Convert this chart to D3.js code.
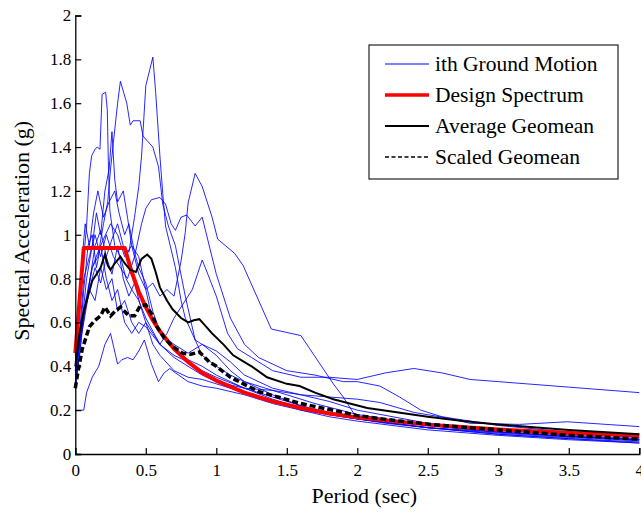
<!DOCTYPE html>
<html>
<head>
<meta charset="utf-8">
<script src="https://cdn.jsdelivr.net/npm/d3@7"></script>
<style>
  body { margin: 0; background: #fff; }
  svg text { font-family: "Liberation Serif", "Times New Roman", serif; fill: #000; }
</style>
</head>
<body>
<div id="chart"></div>
<script>
// Spectral acceleration vs period
let xTicks = [0, 0.5, 1, 1.5, 2, 2.5, 3, 3.5, 4];
let yTicks = [0, 0.2, 0.4, 0.6, 0.8, 1, 1.2, 1.4, 1.6, 1.8, 2];

// ground motions, [period, Sa]
let gm1 = [[0,0.32],[0.03,0.45],[0.06,0.62],[0.1,0.78],[0.14,0.95],[0.18,1.02],[0.22,0.9],[0.26,0.98],[0.3,1.05],[0.34,0.95],[0.38,0.92],[0.42,1.08],[0.45,1.22],[0.47,1.36],[0.5,1.68],[0.55,1.81],[0.57,1.65],[0.6,1.36],[0.62,1.19],[0.64,1.04],[0.71,0.85],[0.75,0.7],[0.78,0.62],[0.85,0.52],[0.9,0.5],[1.0,0.45],[1.1,0.38],[1.2,0.33],[1.4,0.27],[1.6,0.22],[1.8,0.18],[2.0,0.16],[2.5,0.12],[3.0,0.095],[3.5,0.075],[4,0.06]];
let gm2 = [[0,0.42],[0.04,0.6],[0.08,0.72],[0.12,0.85],[0.16,0.9],[0.2,1.05],[0.23,1.15],[0.25,1.3],[0.27,1.42],[0.3,1.6],[0.32,1.7],[0.365,1.6],[0.39,1.5],[0.41,1.52],[0.46,1.52],[0.48,1.45],[0.55,1.4],[0.59,1.31],[0.62,1.14],[0.66,1.04],[0.71,0.95],[0.74,0.85],[0.78,0.72],[0.85,0.52],[0.9,0.45],[1.0,0.4],[1.1,0.36],[1.2,0.33],[1.35,0.3],[1.5,0.27],[1.7,0.23],[2.0,0.18],[2.5,0.13],[3,0.1],[3.5,0.08],[4,0.065]];
let gm3 = [[0,0.4],[0.03,0.65],[0.06,0.9],[0.08,1.04],[0.1,1.28],[0.116,1.36],[0.14,1.39],[0.155,1.4],[0.175,1.39],[0.19,1.64],[0.215,1.65],[0.227,1.57],[0.234,1.34],[0.245,1.11],[0.28,0.95],[0.32,0.9],[0.36,0.8],[0.4,0.75],[0.45,0.7],[0.5,0.62],[0.6,0.5],[0.7,0.45],[0.8,0.42],[0.9,0.38],[1.0,0.35],[1.2,0.3],[1.4,0.25],[1.6,0.21],[1.8,0.18],[2,0.16],[2.5,0.12],[3,0.09],[3.5,0.07],[4,0.055]];
let gm4 = [[0,0.38],[0.04,0.55],[0.08,0.7],[0.12,0.85],[0.16,0.92],[0.2,0.98],[0.25,1.05],[0.3,1.0],[0.35,0.9],[0.4,0.95],[0.45,0.82],[0.5,0.75],[0.55,0.78],[0.6,0.72],[0.65,0.75],[0.7,0.72],[0.75,0.88],[0.78,1.01],[0.8,1.145],[0.85,1.28],[0.9,1.22],[0.97,1.08],[1.01,0.98],[1.13,0.915],[1.19,0.86],[1.39,0.57],[1.6,0.54],[1.83,0.32],[1.9,0.26],[2.0,0.16],[2.2,0.14],[2.5,0.12],[3,0.1],[3.5,0.08],[4,0.065]];
let gm5 = [[0,0.38],[0.03,0.55],[0.06,0.8],[0.1,0.9],[0.14,1.0],[0.18,0.9],[0.22,1.0],[0.27,0.9],[0.32,0.85],[0.37,0.8],[0.42,0.9],[0.47,1.05],[0.5,1.12],[0.54,1.16],[0.6,1.17],[0.64,1.14],[0.68,1.05],[0.71,1.02],[0.75,1.08],[0.79,1.09],[0.85,1.04],[0.9,1.08],[1.0,0.82],[1.1,0.62],[1.2,0.5],[1.3,0.44],[1.5,0.38],[1.7,0.36],[1.9,0.33],[2.0,0.33],[2.16,0.31],[2.3,0.26],[2.45,0.2],[2.6,0.17],[3,0.13],[3.5,0.1],[4,0.075]];
let gm6 = [[0,0.3],[0.03,0.45],[0.06,0.65],[0.1,0.75],[0.14,0.85],[0.18,0.78],[0.22,0.9],[0.26,0.82],[0.3,0.95],[0.34,0.8],[0.38,0.72],[0.42,0.78],[0.46,0.68],[0.5,0.6],[0.55,0.55],[0.6,0.5],[0.65,0.55],[0.7,0.62],[0.76,0.68],[0.83,0.75],[0.9,0.885],[0.94,0.82],[1.0,0.72],[1.08,0.55],[1.15,0.48],[1.25,0.44],[1.4,0.38],[1.6,0.35],[1.8,0.35],[2.0,0.34],[2.2,0.37],[2.4,0.39],[2.6,0.37],[2.8,0.34],[3.0,0.33],[3.2,0.32],[3.6,0.3],[4,0.28]];
let gm7 = [[0,0.2],[0.06,0.2],[0.08,0.28],[0.12,0.35],[0.166,0.4],[0.21,0.5],[0.25,0.55],[0.3,0.41],[0.33,0.43],[0.37,0.44],[0.41,0.43],[0.45,0.47],[0.49,0.52],[0.54,0.41],[0.59,0.33],[0.63,0.37],[0.67,0.39],[0.71,0.37],[0.8,0.33],[0.9,0.31],[1.0,0.3],[1.2,0.27],[1.4,0.23],[1.6,0.2],[1.8,0.18],[2,0.16],[2.5,0.12],[3,0.09],[3.5,0.07],[4,0.05]];
let gm8 = [[0,0.3],[0.03,0.5],[0.06,0.75],[0.09,0.95],[0.12,1.0],[0.15,0.85],[0.18,0.95],[0.22,0.8],[0.26,0.7],[0.3,0.75],[0.35,0.6],[0.4,0.55],[0.45,0.6],[0.5,0.58],[0.6,0.5],[0.7,0.44],[0.8,0.4],[0.9,0.36],[1.0,0.33],[1.2,0.3],[1.4,0.29],[1.6,0.27],[1.8,0.26],[2.0,0.25],[2.16,0.235],[2.4,0.19],[2.63,0.165],[2.8,0.14],[3.15,0.135],[3.49,0.147],[4,0.125]];
let gm9 = [[0,0.45],[0.03,0.7],[0.05,0.9],[0.07,1.05],[0.1,0.95],[0.13,1.1],[0.16,1.2],[0.2,1.08],[0.24,1.15],[0.28,1.2],[0.31,1.1],[0.35,1.0],[0.38,1.05],[0.42,0.92],[0.45,0.85],[0.5,0.78],[0.55,0.65],[0.6,0.56],[0.7,0.48],[0.8,0.43],[0.9,0.4],[1.0,0.36],[1.2,0.3],[1.4,0.26],[1.6,0.22],[1.8,0.19],[2,0.17],[2.5,0.13],[3,0.1],[3.5,0.08],[4,0.065]];
let gm10 = [[0,0.36],[0.04,0.55],[0.08,0.8],[0.12,0.95],[0.15,1.1],[0.18,1.0],[0.21,1.2],[0.24,1.3],[0.26,1.47],[0.28,1.25],[0.3,1.15],[0.34,1.2],[0.37,1.08],[0.4,0.95],[0.45,0.9],[0.5,0.75],[0.55,0.6],[0.6,0.55],[0.7,0.5],[0.8,0.46],[0.9,0.5],[1.0,0.47],[1.1,0.42],[1.2,0.36],[1.4,0.3],[1.6,0.27],[1.8,0.24],[2,0.2],[2.5,0.14],[3,0.11],[3.5,0.085],[4,0.07]];
let gm11 = [[0,0.33],[0.03,0.5],[0.06,0.6],[0.1,0.75],[0.14,0.7],[0.18,0.85],[0.22,0.75],[0.26,0.8],[0.3,0.65],[0.35,0.7],[0.4,0.6],[0.45,0.55],[0.5,0.6],[0.55,0.5],[0.6,0.45],[0.7,0.38],[0.8,0.35],[0.9,0.34],[1.0,0.32],[1.2,0.28],[1.4,0.24],[1.6,0.2],[1.8,0.17],[2,0.15],[2.5,0.11],[3,0.085],[3.5,0.065],[4,0.05]];
let groundMotions = [gm1, gm2, gm3, gm4, gm5, gm6, gm7, gm8, gm9, gm10, gm11];

let designSpectrum = [[0,0.46],[0.06,0.94],[0.35,0.94],[0.4,0.83],[0.45,0.74],[0.5,0.67],[0.55,0.61],[0.6,0.56],[0.7,0.48],[0.8,0.42],[0.9,0.37],[1.0,0.335],[1.2,0.28],[1.4,0.24],[1.6,0.21],[1.8,0.185],[2.0,0.167],[2.5,0.134],[3.0,0.112],[3.5,0.096],[4.0,0.084]];
let avgGeomean = [[0,0.4],[0.03,0.55],[0.06,0.65],[0.09,0.72],[0.12,0.79],[0.15,0.82],[0.18,0.85],[0.21,0.91],[0.23,0.86],[0.25,0.84],[0.28,0.87],[0.32,0.9],[0.35,0.87],[0.39,0.84],[0.43,0.83],[0.47,0.89],[0.51,0.91],[0.54,0.89],[0.57,0.83],[0.6,0.76],[0.65,0.7],[0.69,0.66],[0.75,0.62],[0.8,0.6],[0.84,0.61],[0.88,0.615],[0.97,0.55],[1.05,0.5],[1.12,0.45],[1.25,0.4],[1.36,0.35],[1.5,0.32],[1.59,0.31],[1.7,0.28],[1.83,0.25],[2.07,0.21],[2.28,0.19],[2.5,0.17],[2.75,0.15],[3,0.135],[3.5,0.11],[4,0.09]];
let scaledGeomean = [[0,0.3],[0.02,0.38],[0.05,0.48],[0.1,0.58],[0.14,0.61],[0.18,0.63],[0.21,0.67],[0.25,0.63],[0.28,0.65],[0.32,0.67],[0.35,0.65],[0.38,0.63],[0.42,0.63],[0.46,0.675],[0.5,0.68],[0.54,0.64],[0.58,0.58],[0.63,0.53],[0.69,0.49],[0.76,0.46],[0.82,0.455],[0.88,0.465],[0.95,0.42],[1.0,0.4],[1.1,0.35],[1.3,0.285],[1.6,0.23],[1.9,0.19],[2.0,0.175],[2.3,0.15],[2.6,0.13],[3.0,0.11],[3.5,0.085],[4,0.068]];

let legendLabels = ["ith Ground Motion", "Design Spectrum", "Average Geomean", "Scaled Geomean"];

let serif = '"Liberation Serif", "Times New Roman", serif';
let W = 641, H = 512;
let margin = {top: 15.5, right: 1.7, bottom: 58, left: 75.3};
let width = W - margin.left - margin.right;
let height = H - margin.top - margin.bottom;

let x = d3.scaleLinear().domain([0, 4]).range([0, width]);
let y = d3.scaleLinear().domain([0, 2]).range([height, 0]);

let svg = d3.select("#chart").append("svg")
    .attr("width", W)
    .attr("height", H)
  .append("g")
    .attr("transform", `translate(${margin.left},${margin.top})`);

let line = d3.line().x(d => x(d[0])).y(d => y(d[1]));

svg.selectAll("path.gm")
  .data(groundMotions)
  .enter()
  .append("path")
    .attr("class", "gm")
    .attr("d", line)
    .attr("fill", "none")
    .attr("stroke", "#0000ff")
    .attr("stroke-width", 1)
    .attr("opacity", 0.85);

svg.append("path").datum(designSpectrum)
  .attr("d", line).attr("fill", "none")
  .attr("stroke", "#ff0000").attr("stroke-width", 4)
  .attr("stroke-linejoin", "round");

svg.append("path").datum(avgGeomean)
  .attr("d", line).attr("fill", "none")
  .attr("stroke", "#000").attr("stroke-width", 2);

svg.append("path").datum(scaledGeomean)
  .attr("d", line).attr("fill", "none")
  .attr("stroke", "#000").attr("stroke-width", 3.5)
  .attr("stroke-dasharray", "6,3");

// axes, matlab style: ticks point inwards
let axeX = d3.axisBottom(x).tickValues(xTicks).tickSize(-6).tickPadding(10).tickFormat(d3.format("~g"));
let axeY = d3.axisLeft(y).tickValues(yTicks).tickSize(-6).tickPadding(10).tickFormat(d3.format("~g"));

let gx = svg.append("g").attr("transform", `translate(0,${height})`).call(axeX);
let gy = svg.append("g").call(axeY);

[gx, gy].forEach(g => {
  g.attr("font-family", null);
  g.select(".domain").attr("stroke", "#000").attr("stroke-width", 1.3);
  g.selectAll(".tick line").attr("stroke", "#000").attr("stroke-width", 1.2);
  g.selectAll(".tick text")
    .style("font-family", serif)
    .style("font-size", "17px")
    .attr("fill", "#000");
});
gy.selectAll(".tick text").attr("x", -4);

svg.append("text")
  .attr("x", x(2) + 7)
  .attr("y", height + 49)
  .attr("text-anchor", "middle")
  .style("font-family", serif)
  .style("font-size", "22px")
  .text("Period (sec)");

svg.append("text")
  .attr("transform", `translate(${-46},${height / 2 - 4}) rotate(-90)`)
  .attr("text-anchor", "middle")
  .style("font-family", serif)
  .style("font-size", "22px")
  .text("Spectral Acceleration (g)");

// legend
let lg = svg.append("g").attr("transform", `translate(${369 - margin.left},${45 - margin.top})`);
lg.append("rect")
  .attr("width", 249).attr("height", 134)
  .attr("fill", "#fff").attr("stroke", "#222").attr("stroke-width", 1.2);

let legendStyles = [
  {color: "#0000ff", w: 1, dash: null},
  {color: "#ff0000", w: 3.5, dash: null},
  {color: "#000", w: 1.8, dash: null},
  {color: "#000", w: 1.5, dash: "4,2.5"}
];

legendLabels.forEach((lab, i) => {
  let yy = 19 + i * 31;
  lg.append("line")
    .attr("x1", 16).attr("x2", 60)
    .attr("y1", yy).attr("y2", yy)
    .attr("stroke", legendStyles[i].color)
    .attr("stroke-width", legendStyles[i].w)
    .attr("stroke-dasharray", legendStyles[i].dash);
  lg.append("text")
    .attr("x", 66).attr("y", yy + 7)
    .style("font-family", serif)
    .style("font-size", "21.5px")
    .text(lab);
});
</script>
</body>
</html>
